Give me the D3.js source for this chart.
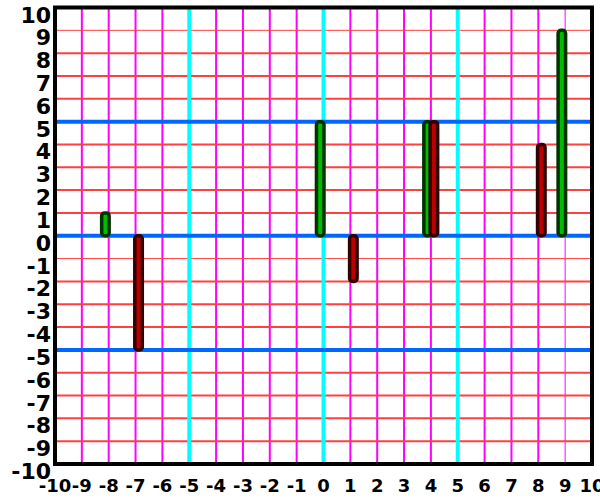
<!DOCTYPE html>
<html><head><meta charset="utf-8">
<script src="https://cdn.jsdelivr.net/npm/d3@7"></script>
<style>body{margin:0;background:#fff}svg{display:block}text{font-family:"DejaVu Sans";font-weight:bold;fill:#000}</style>
</head><body>
<svg id="c" width="600" height="500"></svg>
<script>
const xTicks = d3.range(-10, 11);
const yTicks = d3.range(-10, 11);
const majorX = [-5, 0, 5];
const majorY = [-5, 0, 5];
const greenX = [-8, 0, 4, 9];
const greenV = [1, 5, 5, 9];
const redX = [-7, 1, 4, 8];
const redV = [-5, -2, 5, 4];

const svg = d3.select("#c");
const x = d3.scaleLinear().domain([-10, 10]).range([55, 592]);
const y = d3.scaleLinear().domain([-10, 10]).range([464, 7.5]);

// magenta verticals
svg.append("g").selectAll("line").data(xTicks.filter(d => d > -10 && d < 10 && !majorX.includes(d)))
  .join("line").attr("x1", d => x(d)).attr("x2", d => x(d)).attr("y1", y(10)).attr("y2", y(-10))
  .attr("stroke", "#ff00ff").attr("stroke-width", d => d === 9 ? 1 : 2);
// red horizontals
svg.append("g").selectAll("line").data(yTicks.filter(d => d > -10 && d < 10 && !majorY.includes(d)))
  .join("line").attr("x1", x(-10)).attr("x2", x(10)).attr("y1", d => y(d)).attr("y2", d => y(d))
  .attr("stroke", "#ff4040").attr("stroke-width", d => (d === 9 || d === -1) ? 1 : 2);
// cyan
svg.append("g").selectAll("line").data(majorX)
  .join("line").attr("x1", d => x(d)).attr("x2", d => x(d)).attr("y1", y(10)).attr("y2", y(-10))
  .attr("stroke", "#00ffff").attr("stroke-width", 4);
// blue
svg.append("g").selectAll("line").data(majorY)
  .join("line").attr("x1", x(-10)).attr("x2", x(10)).attr("y1", d => y(d)).attr("y2", d => y(d))
  .attr("stroke", "#0066ff").attr("stroke-width", 4);

function bars(xs, vs, off, fill, dark) {
  svg.append("g").selectAll("rect").data(xs.map((d, i) => ({x: d, v: vs[i]})))
    .join("rect")
    .attr("x", d => x(d.x) + off - 3.75).attr("width", 7.5)
    .attr("y", d => y(Math.max(0, d.v))).attr("height", d => Math.abs(y(d.v) - y(0)))
    .attr("rx", 3).attr("ry", 3)
    .attr("fill", fill).attr("stroke", dark).attr("stroke-width", 3.5);
}
bars(greenX, greenV, -3.3, "#00bb00", "#003300");
bars(redX, redV, 3, "#bb0000", "#330000");

// border
svg.append("rect").attr("x", x(-10)).attr("y", y(10)).attr("width", x(10) - x(-10)).attr("height", y(-10) - y(10))
  .attr("fill", "none").attr("stroke", "#000").attr("stroke-width", 4);

// y labels
svg.append("g").selectAll("text").data(yTicks).join("text")
  .attr("x", 51).attr("y", d => y(d) + 15).attr("text-anchor", "end")
  .style("font-size", "22px").text(d => d);
// x labels
svg.append("g").selectAll("text").data(xTicks).join("text")
  .attr("x", d => x(d)).attr("y", 492).attr("text-anchor", "middle")
  .style("font-size", "18px").text(d => d);
</script>
</body></html>
